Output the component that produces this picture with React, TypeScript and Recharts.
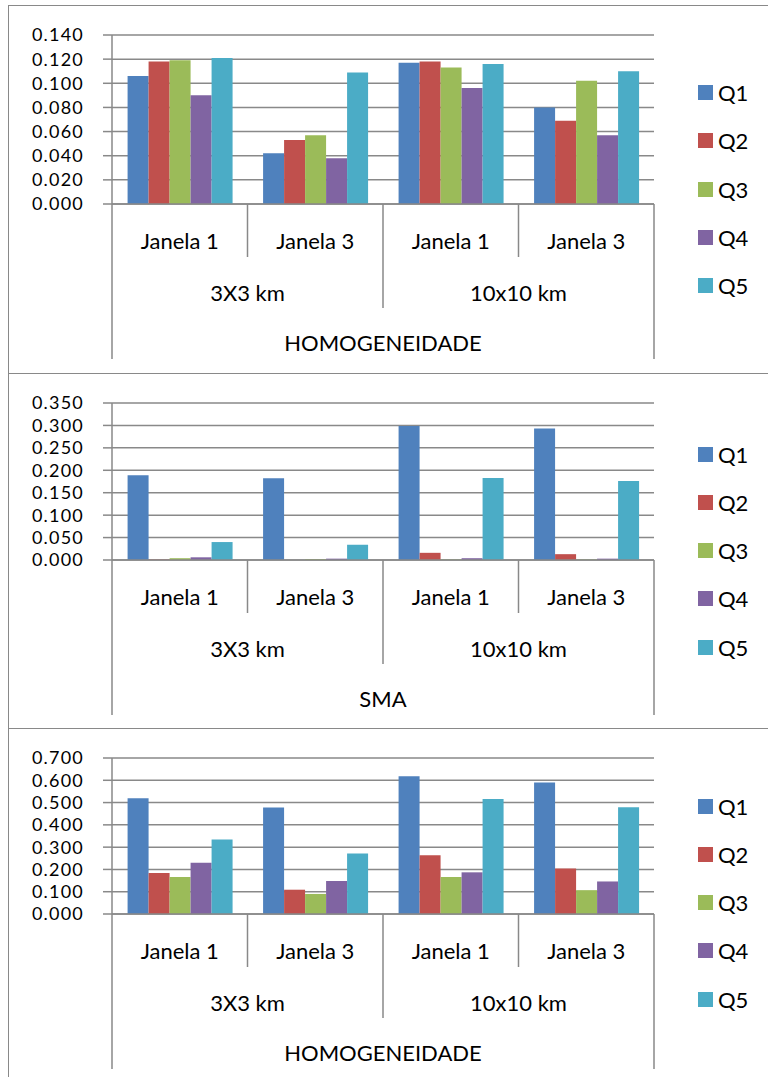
import { BarChart, Bar, XAxis, YAxis, CartesianGrid, Legend } from 'recharts'

const janelas = ['Janela 1', 'Janela 3', 'Janela 1', 'Janela 3']
const resolucoes = ['3X3 km', '3X3 km', '10x10 km', '10x10 km']
const series = ['Q1', 'Q2', 'Q3', 'Q4', 'Q5']
const cores = ['#4F81BD', '#C0504D', '#9BBB59', '#8064A2', '#4BACC6']

// HOMOGENEIDADE (primeiro painel)
const homogAQ1 = [0.106, 0.042, 0.117, 0.080]
const homogAQ2 = [0.118, 0.053, 0.118, 0.069]
const homogAQ3 = [0.119, 0.057, 0.113, 0.102]
const homogAQ4 = [0.090, 0.038, 0.096, 0.057]
const homogAQ5 = [0.121, 0.109, 0.116, 0.110]
const homogATicks = [0, 0.02, 0.04, 0.06, 0.08, 0.1, 0.12, 0.14]

// SMA
const smaQ1 = [0.189, 0.182, 0.299, 0.293]
const smaQ2 = [0.001, 0.000, 0.016, 0.013]
const smaQ3 = [0.004, 0.002, 0.001, 0.001]
const smaQ4 = [0.006, 0.003, 0.004, 0.003]
const smaQ5 = [0.040, 0.034, 0.183, 0.176]
const smaTicks = [0, 0.05, 0.1, 0.15, 0.2, 0.25, 0.3, 0.35]

// HOMOGENEIDADE (terceiro painel)
const homogBQ1 = [0.519, 0.478, 0.618, 0.590]
const homogBQ2 = [0.184, 0.109, 0.264, 0.204]
const homogBQ3 = [0.166, 0.090, 0.166, 0.107]
const homogBQ4 = [0.230, 0.148, 0.187, 0.146]
const homogBQ5 = [0.334, 0.272, 0.516, 0.479]
const homogBTicks = [0, 0.1, 0.2, 0.3, 0.4, 0.5, 0.6, 0.7]

const FONT = 'Lato, "Open Sans", sans-serif'
const GRAY = '#898989'
const CHART_W = 760
const PLOT_LEFT = 104
const PLOT_W = 542
const BAND = PLOT_W / janelas.length

const montar = (cols: number[][]) =>
  janelas.map((janela, i) => {
    const row: Record<string, string | number> = { janela, resolucao: resolucoes[i] }
    series.forEach((s, k) => {
      row[s] = cols[k][i]
    })
    return row
  })

const paineis = [
  {
    titulo: 'HOMOGENEIDADE',
    top: 5,
    height: 368,
    marginTop: 30,
    marginBottom: 9,
    ticks: homogATicks,
    data: montar([homogAQ1, homogAQ2, homogAQ3, homogAQ4, homogAQ5]),
  },
  {
    titulo: 'SMA',
    top: 373,
    height: 355,
    marginTop: 30,
    marginBottom: 8,
    ticks: smaTicks,
    data: montar([smaQ1, smaQ2, smaQ3, smaQ4, smaQ5]),
  },
  {
    titulo: 'HOMOGENEIDADE',
    top: 728,
    height: 349,
    marginTop: 30,
    marginBottom: 3,
    ticks: homogBTicks,
    data: montar([homogBQ1, homogBQ2, homogBQ3, homogBQ4, homogBQ5]),
  },
]

// three-level category axis: janela / resolução / variável
const CategoryTick = ({ x, y, index, titulo }: any) => {
  const left = x - BAND / 2
  const novoGrupo = index === 0 || resolucoes[index] !== resolucoes[index - 1]
  const sepLen = index === 0 ? 155 : novoGrupo ? 104 : 53
  const last = index === janelas.length - 1
  let span = 0
  if (novoGrupo) {
    while (index + span < resolucoes.length && resolucoes[index + span] === resolucoes[index]) span++
  }
  const txt = { fill: '#000', fontSize: 22, fontFamily: FONT, textAnchor: 'middle' as const, dominantBaseline: 'central' as const }
  return (
    <g>
      <line x1={left} y1={y} x2={left} y2={y + sepLen} stroke={GRAY} strokeWidth={1.5} />
      {last && <line x1={x + BAND / 2} y1={y} x2={x + BAND / 2} y2={y + 155} stroke={GRAY} strokeWidth={1.5} />}
      <text x={x} y={y + 36} {...txt}>{janelas[index]}</text>
      {novoGrupo && (
        <text x={left + (span * BAND) / 2} y={y + 88} {...txt}>{resolucoes[index]}</text>
      )}
      {index === 0 && (
        <text x={left + PLOT_W / 2} y={y + 138} {...txt}>{titulo}</text>
      )}
    </g>
  )
}

const renderLegend = ({ payload }: any) => (
  <div style={{ display: 'flex', flexDirection: 'column' }}>
    {(payload || []).map((item: any) => (
      <div key={item.value} style={{ height: 48.25, display: 'flex', alignItems: 'center' }}>
        <span style={{ width: 15, height: 15, background: item.color, marginRight: 5, display: 'inline-block' }} />
        <span style={{ fontSize: 22, fontFamily: FONT, color: '#000' }}>{item.value}</span>
      </div>
    ))}
  </div>
)

function Painel({ p }: { p: (typeof paineis)[number] }) {
  const max = p.ticks[p.ticks.length - 1]
  return (
    <div style={{ position: 'absolute', left: 8, top: p.top, width: CHART_W, height: p.height }}>
      <div
        style={{
          position: 'absolute',
          left: 0,
          top: 0,
          width: CHART_W + 20,
          height: p.height + 20,
          borderTop: `1.5px solid ${GRAY}`,
          borderLeft: `1.5px solid ${GRAY}`,
          boxSizing: 'border-box',
        }}
      />
      <BarChart
        width={CHART_W}
        height={p.height}
        data={p.data}
        margin={{ top: p.marginTop, right: CHART_W - PLOT_LEFT - PLOT_W, bottom: p.marginBottom, left: 4 }}
        barCategoryGap="11.5%"
        barGap={0}
      >
        <CartesianGrid vertical={false} stroke={GRAY} strokeWidth={1.5} strokeOpacity={1} />
        <XAxis
          dataKey="janela"
          height={160}
          interval={0}
          tickLine={false}
          tickSize={0}
          tickMargin={0}
          axisLine={{ stroke: GRAY, strokeWidth: 1.5 }}
          tick={(props: any) => <CategoryTick {...props} titulo={p.titulo} />}
        />
        <YAxis
          width={100}
          domain={[0, max]}
          ticks={p.ticks}
          interval={0}
          tickFormatter={(v: number) => v.toFixed(3)}
          tick={{ fill: '#000', fontSize: 18, fontFamily: FONT, letterSpacing: 1.2 }}
          tickSize={9}
          tickMargin={19}
          tickLine={{ stroke: GRAY, strokeWidth: 1.5 }}
          axisLine={{ stroke: GRAY, strokeWidth: 1.5 }}
        />
        <Legend
          layout="vertical"
          align="center"
          verticalAlign="middle"
          wrapperStyle={{ left: 690, width: 70 }}
          content={renderLegend}
        />
        {series.map((s, i) => (
          <Bar key={s} dataKey={s} fill={cores[i]} isAnimationActive={false} />
        ))}
      </BarChart>
    </div>
  )
}

export default function App() {
  return (
    <div
      style={{
        position: 'absolute',
        left: 0,
        top: 0,
        width: 768,
        height: 1077,
        overflow: 'hidden',
        background: '#fff',
        fontFamily: FONT,
      }}
    >
      {paineis.map((p, i) => (
        <Painel key={i} p={p} />
      ))}
    </div>
  )
}
